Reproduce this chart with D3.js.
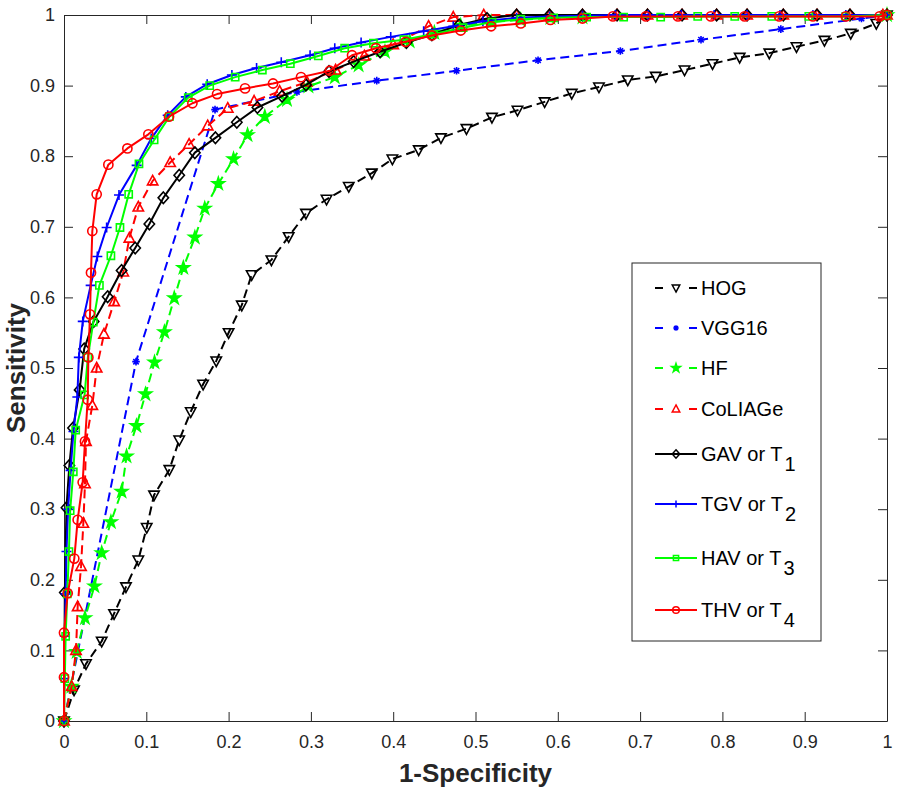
<!DOCTYPE html>
<html><head><meta charset="utf-8">
<script src="https://cdn.jsdelivr.net/npm/d3@7"></script>
<style>html,body{margin:0;padding:0;background:#fff;}svg{display:block;font-family:"Liberation Sans",Arial,Helvetica,sans-serif;}</style>
</head><body>
<svg id="chart" width="897" height="788"></svg>
<script>
// ---------- data ----------
const hogX = [0,0.0122,0.0267,0.0458,0.0608,0.0753,0.0903,0.1005,0.1094,0.128,0.140,0.154,0.169,0.185,0.200,0.216,0.228,0.252,0.273,0.294,0.319,0.346,0.374,0.399,0.431,0.458,0.489,0.520,0.551,0.584,0.617,0.650,0.685,0.719,0.754,0.788,0.821,0.857,0.890,0.924,0.956,0.987,1];
const hogY = [0,0.044,0.081,0.113,0.152,0.190,0.228,0.274,0.320,0.356,0.398,0.438,0.477,0.510,0.550,0.589,0.632,0.653,0.686,0.719,0.739,0.757,0.776,0.796,0.809,0.826,0.839,0.855,0.865,0.877,0.889,0.898,0.908,0.913,0.922,0.931,0.940,0.946,0.955,0.964,0.974,0.988,1];

const vggX = [0,0.0875,0.1835,0.283,0.380,0.477,0.576,0.676,0.774,0.871,0.969,1];
const vggY = [0,0.509,0.866,0.891,0.907,0.921,0.936,0.949,0.965,0.980,0.995,1];

const hfX = [0,0.009,0.0154,0.0255,0.037,0.0458,0.057,0.070,0.076,0.088,0.099,0.110,0.122,0.134,0.145,0.159,0.171,0.1875,0.206,0.223,0.244,0.271,0.297,0.329,0.358,0.390,0.420,0.450,0.482,0.519,0.555,0.591,0.630,1];
const hfY = [0,0.049,0.098,0.146,0.191,0.238,0.282,0.325,0.375,0.418,0.463,0.508,0.551,0.599,0.642,0.685,0.726,0.761,0.796,0.830,0.856,0.880,0.899,0.912,0.929,0.948,0.963,0.975,0.985,0.990,0.993,0.996,0.997,1];

const colX = [0,0.0093,0.0146,0.0166,0.0207,0.0235,0.0255,0.0267,0.0344,0.0397,0.0486,0.061,0.072,0.0794,0.0903,0.1077,0.129,0.152,0.1746,0.199,0.231,0.262,0.295,0.330,0.365,0.400,0.443,0.473,0.510,0.550,0.590,0.630,0.672,0.709,0.751,0.793,0.830,0.874,0.915,0.955,0.995,1];
const colY = [0,0.049,0.100,0.162,0.219,0.280,0.336,0.396,0.447,0.500,0.548,0.594,0.636,0.684,0.728,0.765,0.791,0.817,0.843,0.868,0.878,0.892,0.905,0.922,0.942,0.958,0.984,0.997,1,1,1,1,1,1,1,1,1,1,1,1,1,1];

const gavX = [0,0.001,0.003,0.0065,0.011,0.019,0.0245,0.036,0.053,0.070,0.0865,0.1037,0.1207,0.140,0.159,0.184,0.210,0.235,0.265,0.294,0.322,0.352,0.384,0.416,0.447,0.480,0.514,0.550,0.590,0.630,0.672,0.709,0.751,0.793,0.830,0.874,0.915,0.955,1];
const gavY = [0,0.182,0.302,0.362,0.415,0.469,0.527,0.566,0.601,0.638,0.670,0.704,0.741,0.773,0.805,0.826,0.848,0.869,0.885,0.901,0.920,0.934,0.948,0.961,0.972,0.986,0.995,1,1,1,1,1,1,1,1,1,1,1,1];

const tgvX = [0,0,0.001,0.002,0.003,0.005,0.008,0.0115,0.0162,0.018,0.0228,0.0324,0.0405,0.0518,0.0668,0.0883,0.106,0.126,0.148,0.174,0.204,0.234,0.264,0.299,0.329,0.361,0.397,0.437,0.473,0.509,0.550,0.590,0.630,0.670,0.710,0.750,0.790,0.830,0.870,0.910,0.950,1];
const tgvY = [0,0.060,0.120,0.180,0.240,0.300,0.355,0.410,0.459,0.515,0.566,0.617,0.658,0.699,0.745,0.787,0.825,0.858,0.884,0.902,0.915,0.925,0.933,0.943,0.953,0.961,0.969,0.977,0.984,0.991,0.996,0.998,0.999,1,1,1,1,1,1,1,1,1];

const havX = [0,0.001,0.002,0.004,0.006,0.0075,0.0113,0.0142,0.025,0.029,0.0356,0.043,0.057,0.068,0.0786,0.0911,0.1095,0.128,0.151,0.177,0.208,0.241,0.275,0.309,0.341,0.376,0.413,0.449,0.485,0.520,0.555,0.595,0.635,0.680,0.725,0.770,0.815,0.860,0.905,0.950,1];
const havY = [0,0.060,0.120,0.180,0.240,0.298,0.353,0.412,0.462,0.515,0.565,0.617,0.659,0.699,0.746,0.789,0.823,0.856,0.883,0.900,0.912,0.922,0.931,0.942,0.953,0.960,0.965,0.973,0.982,0.990,0.994,0.996,0.997,0.997,0.997,0.998,0.998,0.998,0.998,0.998,1];

const thvX = [0,0,0,0.0045,0.0125,0.0166,0.0227,0.0255,0.0288,0.0296,0.0316,0.0328,0.0344,0.0397,0.0539,0.077,0.1025,0.1276,0.156,0.186,0.220,0.254,0.288,0.323,0.350,0.379,0.415,0.447,0.482,0.519,0.555,0.591,0.630,0.667,0.707,0.746,0.786,0.827,0.869,0.910,0.950,0.991,1];
const thvY = [0,0.062,0.125,0.181,0.230,0.285,0.338,0.396,0.455,0.515,0.576,0.635,0.694,0.746,0.788,0.811,0.831,0.856,0.875,0.888,0.896,0.903,0.912,0.921,0.943,0.953,0.962,0.971,0.978,0.984,0.988,0.993,0.995,0.998,0.998,0.998,0.998,0.998,0.998,0.998,0.998,0.998,1];

const seriesNames = ["HOG","VGG16","HF","CoLIAGe","GAV","TGV","HAV","THV"];
const legendMain = ["HOG","VGG16","HF","CoLIAGe","GAV or T","TGV or T","HAV or T","THV or T"];
const legendSub  = ["","","","","1","2","3","4"];
const xTicks = [0,0.1,0.2,0.3,0.4,0.5,0.6,0.7,0.8,0.9,1];
const yTicks = [0,0.1,0.2,0.3,0.4,0.5,0.6,0.7,0.8,0.9,1];
const xLabel = "1-Specificity";
const yLabel = "Sensitivity";

// ---------- styling ----------
const seriesData = [[hogX,hogY],[vggX,vggY],[hfX,hfY],[colX,colY],[gavX,gavY],[tgvX,tgvY],[havX,havY],[thvX,thvY]];
const styles = [
  {color:"#000000", dash:true,  marker:"tridown"},
  {color:"#0000ff", dash:true,  marker:"asterisk"},
  {color:"#00ff00", dash:true,  marker:"star"},
  {color:"#ff0000", dash:true,  marker:"triup"},
  {color:"#000000", dash:false, marker:"diamond"},
  {color:"#0000ff", dash:false, marker:"plus"},
  {color:"#00ff00", dash:false, marker:"square"},
  {color:"#ff0000", dash:false, marker:"circle"}
];

const W = 897, H = 788;
const m = {left:64, right:10, top:15, bottom:67};
const svg = d3.select("#chart");
const x = d3.scaleLinear().domain([0,1]).range([m.left, W - m.right]);
const y = d3.scaleLinear().domain([0,1]).range([H - m.bottom, m.top]);
const axisColor = "#262626";
const fmt = v => String(+v.toFixed(1));

function markerPath(type, s) {
  const p = d3.path();
  if (type === "circle") { p.moveTo(4.6*s,0); p.arc(0,0,4.6*s,0,2*Math.PI); }
  else if (type === "triup") { p.moveTo(0,-5.6*s); p.lineTo(5.2*s,4*s); p.lineTo(-5.2*s,4*s); p.closePath(); }
  else if (type === "tridown") { p.moveTo(0,5.6*s); p.lineTo(5.2*s,-4*s); p.lineTo(-5.2*s,-4*s); p.closePath(); }
  else if (type === "diamond") { p.moveTo(0,-5.8*s); p.lineTo(5.2*s,0); p.lineTo(0,5.8*s); p.lineTo(-5.2*s,0); p.closePath(); }
  else if (type === "square") { p.rect(-3.6*s,-3.6*s,7.2*s,7.2*s); }
  else if (type === "plus") { p.moveTo(-5*s,0); p.lineTo(5*s,0); p.moveTo(0,-5*s); p.lineTo(0,5*s); }
  else if (type === "asterisk") { const a=3.8*s, b=2.7*s; p.moveTo(-a,0); p.lineTo(a,0); p.moveTo(0,-a); p.lineTo(0,a); p.moveTo(-b,-b); p.lineTo(b,b); p.moveTo(-b,b); p.lineTo(b,-b); }
  else if (type === "star") {
    const R = 6.4*s, r = R*0.382;
    for (let i=0;i<10;i++){ const ang = -Math.PI/2 + i*Math.PI/5; const rr = i%2===0?R:r; const px=rr*Math.cos(ang), py=rr*Math.sin(ang); if(i===0)p.moveTo(px,py); else p.lineTo(px,py);} p.closePath();
  }
  return p.toString();
}
function markerFill(st){ return st.marker === "star" ? st.color : "none"; }

// ---------- axes ----------
const gx = svg.append("g").attr("transform",`translate(0,${y(0)})`)
  .call(d3.axisBottom(x).tickValues(xTicks).tickFormat(fmt).tickSize(-9).tickPadding(14).tickSizeOuter(0));
const gy = svg.append("g").attr("transform",`translate(${x(0)},0)`)
  .call(d3.axisLeft(y).tickValues(yTicks).tickFormat(fmt).tickSize(-9).tickPadding(9).tickSizeOuter(0));
const gt = svg.append("g").attr("transform",`translate(0,${y(1)})`)
  .call(d3.axisTop(x).tickValues(xTicks).tickFormat("").tickSize(-9).tickSizeOuter(0));
const gr = svg.append("g").attr("transform",`translate(${x(1)},0)`)
  .call(d3.axisRight(y).tickValues(yTicks).tickFormat("").tickSize(-9).tickSizeOuter(0));
[gx,gy,gt,gr].forEach(g=>{
  g.selectAll("path.domain").attr("stroke",axisColor).attr("stroke-width",1);
  g.selectAll(".tick line").attr("stroke",axisColor).attr("stroke-width",1);
  g.selectAll(".tick text").attr("fill",axisColor).style("font-size","18px").style("font-family",'"Liberation Sans",Arial,sans-serif');
});

// ---------- series ----------
const line = d3.line().x(d=>x(d[0])).y(d=>y(d[1]));
seriesData.forEach((sd,i)=>{
  const st = styles[i];
  const pts = sd[0].map((v,k)=>[v, sd[1][k]]);
  const g = svg.append("g").attr("class","series").attr("data-name",seriesNames[i]);
  g.append("path").attr("d",line(pts)).attr("fill","none").attr("stroke",st.color)
    .attr("stroke-width",2).attr("stroke-dasharray",st.dash?"9,5":null).attr("stroke-linejoin","round");
  g.selectAll("path.mk").data(pts).join("path").attr("class","mk")
    .attr("transform",d=>`translate(${x(d[0])},${y(d[1])})`)
    .attr("d",markerPath(st.marker,1)).attr("fill",markerFill(st))
    .attr("stroke",st.color).attr("stroke-width",1.6);
});

// ---------- axis titles ----------
svg.append("text").attr("x",(x(0)+x(1))/2).attr("y",782).attr("text-anchor","middle")
  .style("font-size","26px").style("font-weight","bold").attr("fill","#262626").text(xLabel);
svg.append("text").attr("transform",`translate(25,${(y(0)+y(1))/2}) rotate(-90)`).attr("text-anchor","middle")
  .style("font-size","26px").style("font-weight","bold").attr("fill","#262626").text(yLabel);

// ---------- legend ----------
const lg = svg.append("g").attr("transform","translate(632,263)");
lg.append("rect").attr("x",0).attr("y",0).attr("width",189).attr("height",378)
  .attr("fill","#fff").attr("stroke",axisColor).attr("stroke-width",1);
const rowY = [25,65,105,146,191,241,295,347];
styles.forEach((st,i)=>{
  const ry = rowY[i];
  lg.append("path").attr("d",`M23,${ry}H65`).attr("stroke",st.color).attr("stroke-width",2)
    .attr("stroke-dasharray",st.dash?"8,26,8":null).attr("fill","none");
  lg.append("path").attr("transform",`translate(44,${ry})`).attr("d",markerPath(st.marker,0.72))
    .attr("fill",markerFill(st)).attr("stroke",st.color).attr("stroke-width",1.5);
  const t = lg.append("text").attr("x",69).attr("y",ry+7).style("font-size","20px").attr("fill","#000");
  t.append("tspan").text(legendMain[i]);
  if (legendSub[i]) t.append("tspan").attr("dx",2).attr("dy",10).text(legendSub[i]);
});
</script>
</body></html>
